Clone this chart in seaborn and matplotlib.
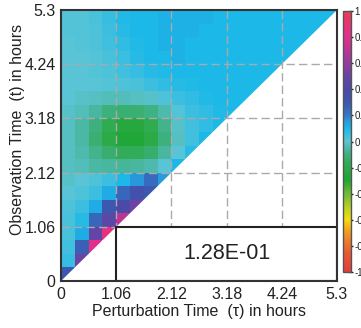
import numpy as np
import matplotlib
matplotlib.use("Agg")
import matplotlib.pyplot as plt
import seaborn as sns
from matplotlib.colors import LinearSegmentedColormap
from matplotlib.patches import Polygon, Rectangle

# ---- data (rows: observation time t from bottom, columns: perturbation time tau) ----
tick_labels = ["0", "1.06", "2.12", "3.18", "4.24", "5.3"]
box_label = "1.28E-01"
rows = [
    [0.30],
    [0.06, 0.50],
    [0.04, 0.28, 0.80],
    [0.03, 0.12, 0.48, 0.85],
    [0.03, 0.08, 0.25, 0.45, 0.70],
    [0.02, 0.05, 0.12, 0.30, 0.40, 0.50],
    [0.00, 0.02, 0.05, 0.12, 0.25, 0.35, 0.30],
    [-0.01, 0.00, 0.02, 0.05, 0.10, 0.16, 0.24, 0.15],
    [-0.02, -0.03, -0.05, -0.06, -0.07, -0.06, -0.04, 0.00, 0.10],
    [-0.02, -0.04, -0.08, -0.13, -0.17, -0.17, -0.13, -0.06, 0.00, 0.08],
    [-0.02, -0.05, -0.12, -0.20, -0.28, -0.28, -0.20, -0.10, -0.02, 0.04, 0.10],
    [-0.02, -0.05, -0.10, -0.18, -0.24, -0.24, -0.18, -0.08, -0.01, 0.04, 0.07, 0.10],
    [-0.01, -0.03, -0.06, -0.10, -0.12, -0.12, -0.09, -0.04, 0.01, 0.05, 0.07, 0.09, 0.10],
    [0.00, -0.01, -0.02, -0.03, -0.03, -0.02, -0.01, 0.02, 0.05, 0.07, 0.09, 0.10, 0.10, 0.10],
    [0.00, 0.00, 0.00, 0.01, 0.02, 0.03, 0.05, 0.07, 0.08, 0.09, 0.10, 0.10, 0.10, 0.10, 0.10],
    [0.00, 0.00, 0.01, 0.02, 0.04, 0.06, 0.08, 0.09, 0.10, 0.10, 0.10, 0.10, 0.10, 0.10, 0.10, 0.10],
    [0.00, 0.00, 0.01, 0.03, 0.05, 0.08, 0.10, 0.10, 0.11, 0.10, 0.10, 0.10, 0.10, 0.10, 0.10, 0.10, 0.10],
    [0.00, 0.01, 0.02, 0.04, 0.07, 0.09, 0.10, 0.11, 0.11, 0.10, 0.10, 0.10, 0.10, 0.10, 0.10, 0.10, 0.10, 0.10],
    [0.01, 0.01, 0.02, 0.05, 0.08, 0.10, 0.10, 0.11, 0.11, 0.11, 0.10, 0.10, 0.10, 0.10, 0.10, 0.10, 0.10, 0.10, 0.10],
    [0.01, 0.01, 0.03, 0.06, 0.09, 0.10, 0.10, 0.11, 0.11, 0.11, 0.11, 0.10, 0.10, 0.10, 0.10, 0.10, 0.10, 0.10, 0.10, 0.10],
]
cbar_ticks = [1, 0.8, 0.6, 0.4, 0.2, 0, -0.2, -0.4, -0.6, -0.8, -1]
cbar_labels = ["1", "0.8", "0.6", "0.4", "0.2", "0", "-0.2", "-0.4", "-0.6", "-0.8", "-1"]

n = len(rows)
Z = np.full((n, n), np.nan)
for i, r in enumerate(rows):
    Z[i, :len(r)] = r

# ---- colormap ----
nodes = [
    (-1.0, "#e63c3c"), (-0.85, "#ea5a32"), (-0.7, "#f29a22"), (-0.6, "#f2dc10"),
    (-0.5, "#b4d028"), (-0.4, "#6cbc34"), (-0.3, "#1ea632"), (-0.2, "#2caa48"),
    (-0.1, "#3cb07c"), (-0.03, "#52bcb8"), (0.0, "#5ac4d4"), (0.05, "#3cbee0"),
    (0.1, "#1ab8e8"), (0.16, "#2898dc"), (0.2, "#3478c8"), (0.3, "#3c58b0"),
    (0.4, "#4a4aa8"), (0.5, "#6a44a4"), (0.65, "#a8389c"),
    (0.8, "#e0308c"), (0.9, "#e83476"), (1.0, "#e84050"),
]
cmap = LinearSegmentedColormap.from_list(
    "custom", [((v + 1) / 2, c) for v, c in nodes])

# ---- figure ----
sns.set_style("white")
plt.rcParams["font.family"] = ["Liberation Sans", "DejaVu Sans"]

fig = plt.figure(figsize=(3.61, 3.28), dpi=100)
ax = fig.add_axes([61 / 361, 1 - 281 / 328, 276 / 361, 271 / 328])
cax = fig.add_axes([343 / 361, 1 - 272 / 328, 8 / 361, 261 / 328])

sns.heatmap(Z, ax=ax, cmap=cmap, vmin=-1, vmax=1, cbar_ax=cax,
            mask=np.isnan(Z), xticklabels=False, yticklabels=False)
ax.invert_yaxis()
ax.set_xlim(0, n)
ax.set_ylim(0, n)

# white region where tau > t
ax.add_patch(Polygon([(0, 0), (n, 0), (n, n)], closed=True,
                     facecolor="white", edgecolor="none", zorder=2))

ticks = np.linspace(0, n, len(tick_labels))
for p in ticks[1:-1]:
    ax.axvline(p, color="#aaaaaa", lw=1, ls=(0, (6, 3)), zorder=2.5)
    ax.axhline(p, color="#aaaaaa", lw=1, ls=(0, (6, 3)), zorder=2.5)

# annotation box
ax.add_patch(Rectangle((ticks[1], 0), n - ticks[1], ticks[1],
                       facecolor="white", edgecolor="#222222", lw=1.5, zorder=3))
ax.text((ticks[1] + n) / 2, ticks[1] / 2, box_label, ha="center", va="center",
        fontsize=15.5, color="#222222", zorder=4)

ax.set_xticks(ticks)
ax.set_yticks(ticks)
ax.set_xticklabels(tick_labels, fontsize=11.5, color="#222222")
ax.set_yticklabels(tick_labels, fontsize=11.5, color="#222222", rotation=0)
ax.tick_params(axis="both", length=3, width=1, color="#999999", pad=1)
ax.set_xlabel("Perturbation Time  (τ) in hours", fontsize=11.5, color="#222222", labelpad=2)
ax.set_ylabel("Observation Time  (t) in hours", fontsize=11.5, color="#222222")
ax.yaxis.set_label_coords(-0.13, 0.56)
for s in ax.spines.values():
    s.set_visible(True)
    s.set_color("#333333")
    s.set_linewidth(1.5)
    s.set_zorder(5)

cb = ax.collections[0].colorbar
cb.set_ticks(cbar_ticks)
cb.set_ticklabels(cbar_labels)
cax.tick_params(labelsize=7, length=3, width=1, direction="inout", pad=1, colors="#222222")
cb.outline.set_visible(True)
cb.outline.set_edgecolor("#555555")
cb.outline.set_linewidth(1)

fig.savefig("out.png", dpi=100)
